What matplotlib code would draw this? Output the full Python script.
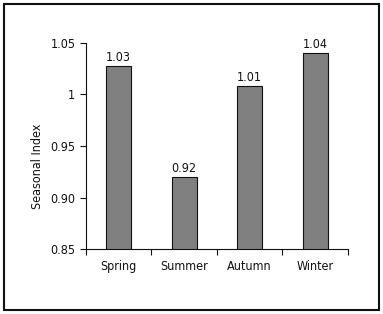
import matplotlib.pyplot as plt
from matplotlib.font_manager import fontManager
from matplotlib.patches import Rectangle

seasons = ["Spring", "Summer", "Autumn", "Winter"]
index_values = [1.027, 0.92, 1.008, 1.04]
value_labels = ["1.03", "0.92", "1.01", "1.04"]
y_ticks = [0.85, 0.90, 0.95, 1.0, 1.05]
y_tick_labels = ["0.85", "0.90", "0.95", "1", "1.05"]

# narrow face if one is installed, like the original's condensed type
condensed = [f for f in fontManager.ttflist
             if "Narrow" in f.name or f.stretch in ("condensed", "semi-condensed")]
if condensed:
    plt.rcParams["font.family"] = [condensed[0].name, "DejaVu Sans"]
    plt.rcParams["font.stretch"] = condensed[0].stretch
    base_size = 9.0
else:
    plt.rcParams["font.family"] = ["Liberation Sans", "DejaVu Sans"]
    base_size = 8.0
plt.rcParams["font.size"] = base_size

fig = plt.figure(figsize=(3.83, 3.14), dpi=100)
ax = fig.add_axes([0.2238, 0.206, 0.6849, 0.658])

x = range(len(seasons))
bars = ax.bar(x, index_values, width=0.38, color="#808080", edgecolor="#111111", linewidth=0.8)
for bar, lab in zip(bars, value_labels):
    ax.text(bar.get_x() + bar.get_width() / 2, bar.get_height() + 0.002, lab,
            ha="center", va="bottom", color="#111111")

ax.set_xlim(-0.5, 3.5)
ax.set_ylim(0.85, 1.05)
ax.set_yticks(y_ticks)
ax.set_yticklabels(y_tick_labels)
ax.set_xticks(list(x))
ax.set_xticklabels(seasons)
ax.set_xticks([i - 0.5 for i in range(len(seasons) + 1)], minor=True)
ax.tick_params(axis="x", which="major", length=0, pad=8, colors="#111111")
ax.tick_params(axis="x", which="minor", length=4, width=0.8, direction="out", color="#111111")
ax.tick_params(axis="y", length=4, width=0.8, direction="out", colors="#111111")

for s in ["top", "right"]:
    ax.spines[s].set_visible(False)
for s in ["left", "bottom"]:
    ax.spines[s].set_linewidth(0.8)
    ax.spines[s].set_color("#111111")

ax.set_ylabel("Seasonal Index", color="#111111")
ax.yaxis.set_label_coords(-0.16, 0.4)

fig.patches.append(Rectangle((4 / 383, 4 / 314), 375 / 383, 306 / 314,
                             transform=fig.transFigure, fill=False,
                             edgecolor="#111111", linewidth=1.5))

fig.savefig("out.png", dpi=100)
